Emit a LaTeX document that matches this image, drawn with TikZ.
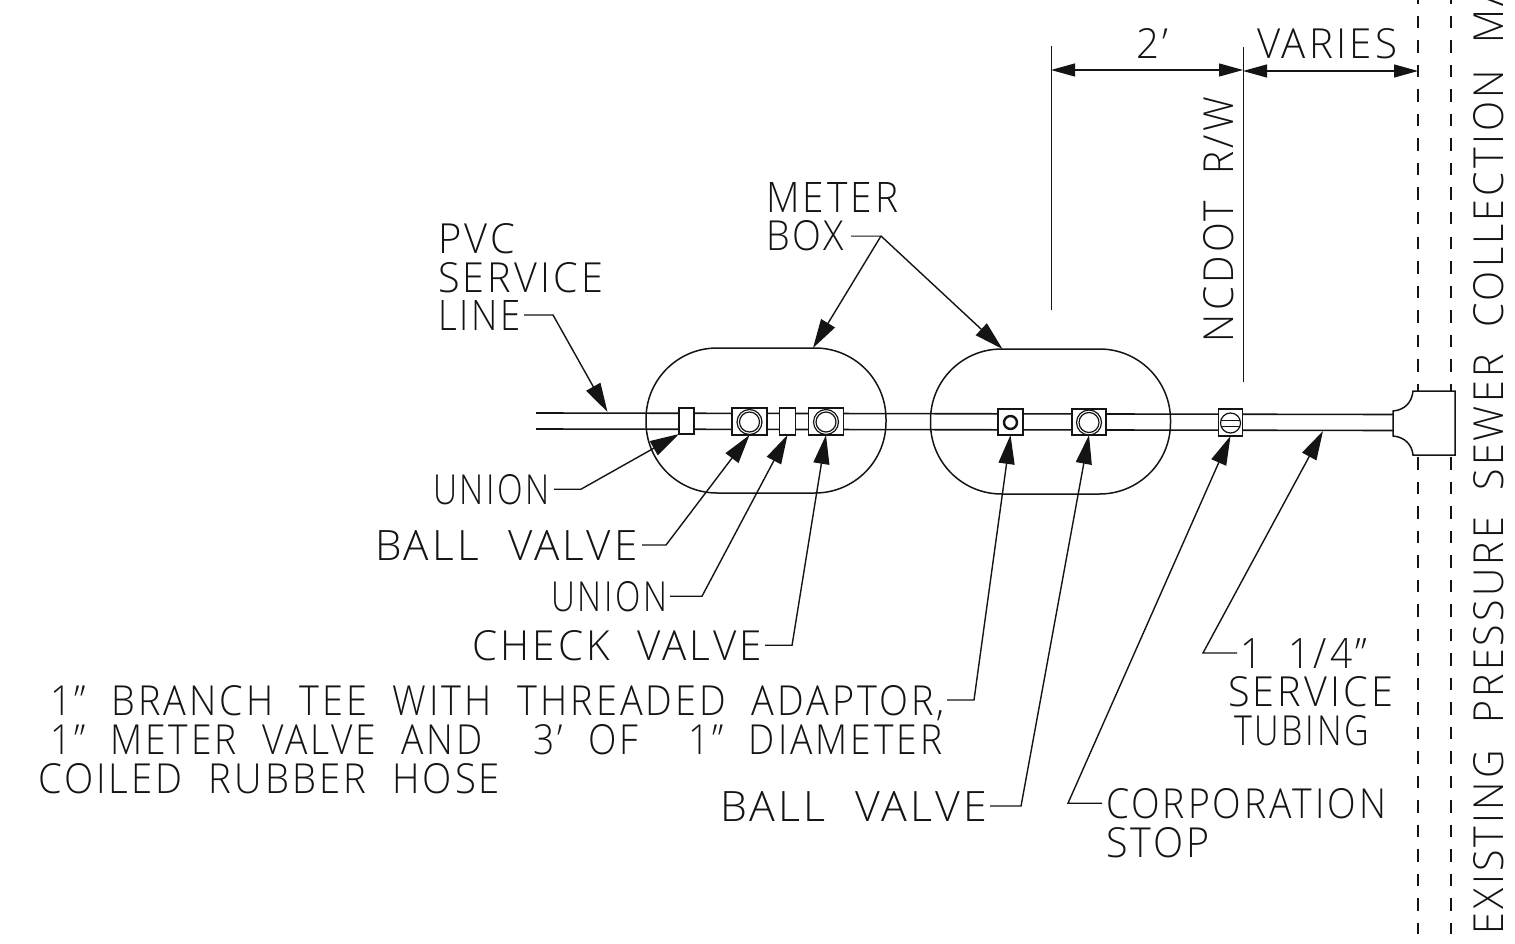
\documentclass[tikz,border=0pt]{standalone}
\usepackage{fontspec}
\usepackage{graphicx}
\usetikzlibrary{arrows.meta}
\setmainfont{Open Sans Light}[LetterSpace=8,WordSpace=2]
\newcommand\cad[2]{\resizebox{#1pt}{30pt}{#2}}
\definecolor{ink}{HTML}{141414}
\tikzset{
  lbl/.style={anchor=base west,inner sep=0pt,outer sep=0pt,text=ink,draw=none},
  vlbl/.style={lbl,rotate=90},
  outline/.style={draw=ink,line width=1.5pt},
  pipe/.style={draw=ink,line width=1.6pt},
  thinline/.style={draw=ink,line width=1pt},
  fitbox/.style={rectangle,draw=ink,fill=white,line width=1.4pt,inner sep=0pt,outer sep=0pt},
  ring/.style={circle,draw=ink,inner sep=0pt,outer sep=0pt,line width=1.2pt},
  meterbox/.style={rectangle,draw=ink,line width=1.5pt,inner sep=0pt,outer sep=0pt,minimum width=240pt,minimum height=145pt,rounded corners=71pt},
  leader/.style={draw=ink,fill=none,line width=1.4pt,miter limit=20,-{Triangle[length=29pt,width=16pt,fill=ink]}},
  dim/.style={draw=ink,line width=1.1pt,{Triangle[length=24pt,width=13pt,fill=ink]}-{Triangle[length=24pt,width=13pt,fill=ink]}},
  row/.style={draw=ink,line width=1.2pt,dash pattern=on 12.5pt off 12pt,dash phase=8.5pt}
}
\begin{document}
\begin{tikzpicture}[x=1pt,y=-1pt]
\useasboundingbox (0,0) rectangle (1515,944);
\clip (0,0) rectangle (1515,944);
\fill[white] (0,0) rectangle (1515,944);

% right-of-way lines
\coordinate (rowAt) at (1418,0); \coordinate (rowAb) at (1418,934);
\coordinate (rowBt) at (1451,0); \coordinate (rowBb) at (1451,934);
\draw[row] (rowAt) -- (rowAb);
\draw[row] (rowBt) -- (rowBb);

% pipes
\coordinate (pTL) at (536,413); \coordinate (pTR) at (1393,414.5);
\coordinate (pBL) at (536,429); \coordinate (pBR) at (1393,430.5);
\draw[pipe] (pTL) -- (pTR);
\draw[pipe] (pBL) -- (pBR);

% meter boxes
\node[meterbox] (boxA) at (766,420.5) {};
\node[meterbox] (boxB) at (1050.5,421.5) {};

% tee
\draw[outline,fill=white] (1393,411) .. controls (1405,410) and (1412,402) .. (1413,391)
  -- (1455,391) -- (1455,455) -- (1413,455) .. controls (1412,445) and (1405,437) .. (1393,436) -- cycle;

% fittings
\node[fitbox,minimum width=15pt,minimum height=26pt] (unA) at (686.5,421) {};
\node[fitbox,minimum width=35pt,minimum height=27pt] (bvA) at (749.5,421.5) {};
\node[ring,minimum size=25pt] at (749.5,422) {};
\node[ring,minimum size=20pt] at (749.5,422) {};
\node[fitbox,minimum width=15.5pt,minimum height=27pt] (unB) at (787.5,421.5) {};
\node[fitbox,minimum width=34.5pt,minimum height=27pt] (cvA) at (826,421.5) {};
\node[ring,minimum size=25pt] at (826,422) {};
\node[ring,minimum size=20pt] at (826,422) {};
\node[fitbox,minimum width=25pt,minimum height=26pt] (tee) at (1010.5,422) {};
\node[ring,line width=2.4pt,minimum size=13pt] at (1010.5,422.5) {};
\node[fitbox,minimum width=34pt,minimum height=26pt] (bvB) at (1089,422) {};
\node[ring,minimum size=25pt] at (1089,422.5) {};
\node[ring,minimum size=20pt] at (1089,422.5) {};
\node[fitbox,minimum width=24.5pt,minimum height=27pt] (cs) at (1230.5,422.5) {};
\node[ring,minimum size=20pt] (csr) at (1230.5,423) {};
\draw[thinline] (csr.center) +(-9.5,-3) -- +(9.5,-3);
\draw[thinline] (csr.center) +(-9.5,3) -- +(9.5,3);

% dimension and extension lines
\coordinate (e1t) at (1051,46); \coordinate (e1b) at (1051,310);
\coordinate (e2t) at (1243,47); \coordinate (e2b) at (1243,382);
\coordinate (e1m) at (1051,70); \coordinate (e2m) at (1243,70);
\coordinate (e2r) at (1243,71); \coordinate (rowm) at (1418,71);
\draw[thinline] (e1t) -- (e1b);
\draw[thinline] (e2t) -- (e2b);
\draw[dim] (e1m) -- (e2m);
\draw[dim] (e2r) -- (rowm);

% labels
\node[lbl] (tPVC) at (438,253) {\cad{77}{PVC}};
\node[lbl] (tSVC) at (438,292) {\cad{165}{SERVICE}};
\node[lbl] (tLINE) at (438,330) {\cad{83}{LINE}};
\node[lbl] (tMETER) at (766,213) {\cad{132}{METER}};
\node[lbl] (tBOX) at (766,251) {\cad{78}{BOX}};
\node[lbl] (tUNA) at (433,504) {\cad{117}{UNION}};
\node[lbl] (tBVA) at (375,560) {\cad{263}{BALL VALVE}};
\node[lbl] (tUNB) at (551,611) {\cad{116}{UNION}};
\node[lbl] (tCV) at (472,660) {\cad{290}{CHECK VALVE}};
\node[lbl] (tL1) at (50,715) {\cad{895}{1" BRANCH TEE WITH THREADED ADAPTOR,}};
\node[lbl] (tL2) at (50,754) {\cad{892}{1" METER VALVE AND \ 3' OF \ 1" DIAMETER}};
\node[lbl] (tL3) at (38,793) {\cad{462}{COILED RUBBER HOSE}};
\node[lbl] (tBVB) at (720,821) {\cad{267}{BALL VALVE}};
\node[lbl] (tCORP) at (1106,818) {\cad{280}{CORPORATION}};
\node[lbl] (tSTOP) at (1106,857) {\cad{104}{STOP}};
\node[lbl] (t114) at (1240,668) {\cad{127}{1 1/4"}};
\node[lbl] (tSV2) at (1228,706) {\cad{165}{SERVICE}};
\node[lbl] (tTUB) at (1234,745) {\cad{135}{TUBING}};
\node[lbl] (t2ft) at (1136,59) {\cad{32}{2'}};
\node[lbl] (tVAR) at (1257,59) {\cad{140}{VARIES}};
\node[vlbl] (tNC) at (1233,342) {\cad{245}{NCDOT R/W}};
\node[vlbl] (tEX) at (1503,934) {\cad{951}{EXISTING PRESSURE SEWER COLLECTION MA}};

% leaders
\coordinate (lnTip) at (607.5,412);
\coordinate (bxK) at (881,236);
\coordinate (mbA) at (813,348);
\coordinate (mbB) at (1002.5,349);
\coordinate (tubeTip) at (1323,431);
\coordinate (l1Start) at (947,700);
\draw[leader] ([xshift=3pt]tLINE.east) -- ++(29,0) -- (lnTip);
\draw[thinline] ([xshift=7pt]tBOX.east) -- (bxK);
\draw[leader] (bxK) -- (mbA);
\draw[leader] (bxK) -- (mbB);
\draw[leader] ([xshift=4pt]tUNA.east) -- ++(27,0) -- (unA.south west);
\draw[leader] ([xshift=4pt]tBVA.east) -- ++(24,0) -- (bvA.south);
\draw[leader] ([xshift=3pt]tUNB.east) -- ++(32,0) -- (unB.south);
\draw[leader] ([xshift=3pt]tCV.east) -- ++(27,0) -- (cvA.south);
\draw[leader] (l1Start) -- ++(27,0) -- (tee.south);
\draw[leader] ([xshift=3pt]tBVB.east) -- ++(31,0) -- (bvB.south);
\draw[leader] ([xshift=-4pt]tCORP.west) -- ++(-34,0) -- (cs.south);
\draw[leader] ([xshift=-3pt]t114.west) -- ++(-34,0) -- (tubeTip);
\end{tikzpicture}
\end{document}
